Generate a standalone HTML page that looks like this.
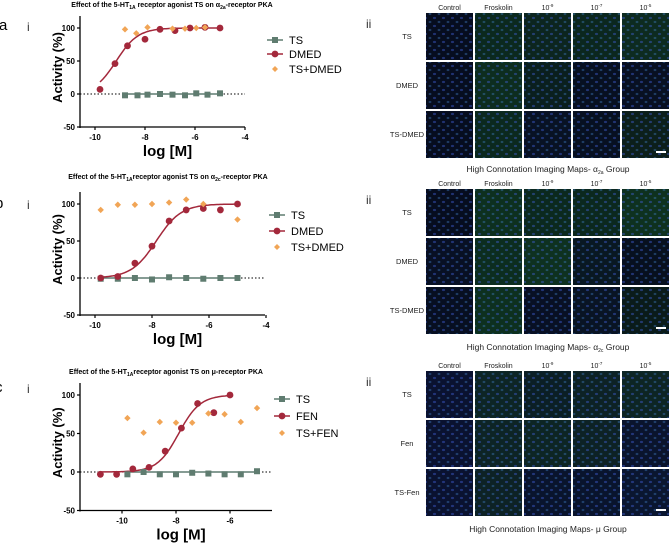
<!DOCTYPE html>
<html><head><meta charset="utf-8">
<style>
html,body{margin:0;padding:0;background:#fff;width:669px;height:545px;overflow:hidden}
svg{display:block;font-family:"Liberation Sans",Arial,sans-serif}
</style></head>
<body>
<svg id="fig" width="669" height="545" viewBox="0 0 669 545" xmlns="http://www.w3.org/2000/svg">
<g id="charts"></g>
<g id="imgs"></g>
</svg>
<script>
// ---- Chart a data ----
const aTsX=[-8.8,-8.3,-7.9,-7.4,-6.9,-6.4,-5.95,-5.5,-5.0];
const aTsY=[-2,-2,-1,0,-1,-2,1,-1,1];
const aDrugX=[-9.8,-9.2,-8.7,-8.0,-7.4,-6.8,-6.2,-5.6,-5.0];
const aDrugY=[7,46,73,83,98,96,100,101,100];
const aComboX=[-8.8,-8.35,-7.9,-6.9,-6.4,-5.95,-5.6];
const aComboY=[98,92,101,99,99,100,101];
const aEC50=-9.15;
// ---- Chart b data ----
const bTsX=[-9.8,-9.2,-8.6,-8.0,-7.4,-6.8,-6.2,-5.6,-5.0];
const bTsY=[-1,-1,0,-2,1,0,-1,0,0];
const bDrugX=[-9.8,-9.2,-8.6,-8.0,-7.4,-6.8,-6.2,-5.6,-5.0];
const bDrugY=[0,2,20,43,77,92,94,92,100];
const bComboX=[-9.8,-9.2,-8.6,-8.0,-7.4,-6.8,-6.2,-5.0];
const bComboY=[92,99,99,100,102,106,100,79];
const bEC50=-7.85;
// ---- Chart c data ----
const cTsX=[-9.8,-9.2,-8.6,-8.0,-7.4,-6.8,-6.2,-5.6,-5.0];
const cTsY=[-3,0,-3,-3,-1,-2,-3,-3,1];
const cDrugX=[-10.8,-10.2,-9.6,-9.0,-8.4,-7.8,-7.2,-6.6,-6.0];
const cDrugY=[-3,-3,4,6,27,57,89,77,100];
const cComboX=[-9.8,-9.2,-8.6,-8.0,-7.4,-6.8,-6.2,-5.6,-5.0];
const cComboY=[70,51,65,64,64,76,75,65,83];
const cEC50=-7.9;
const yTicks=[100,50,0,-50];

const NS="http://www.w3.org/2000/svg";
const RED="#a3283b", GRAY="#5f7c70", ORANGE="#f1a556";
function mk(tag,attrs,parent,text){const e=document.createElementNS(NS,tag);for(const k in attrs)e.setAttribute(k,attrs[k]);if(text!==undefined)e.textContent=text;parent.appendChild(e);return e;}

function chart(cfg){
  const root=document.getElementById('charts');
  const g=mk('g',{},root);
  
  
  const sx=v=>cfg.x0px+(v-cfg.x0v)*cfg.pxu;
  const sy=v=>cfg.y0+(cfg.y100-cfg.y0)*v/100;
  const t=mk('text',{x:cfg.tx,y:cfg.ty,'font-size':7,'font-weight':'bold','text-anchor':'middle'},g);
  
  t.innerHTML=cfg.title;
  const pl=mk('text',{x:cfg.letterX,y:cfg.letterY,'font-size':15},g,cfg.id);
  
  const pi=mk('text',{x:27,y:cfg.letterY+1,'font-size':12,fill:'#333'},g,'i');
  
  const yb=sy(-50);
  const ya=mk('line',{x1:cfg.ax,y1:sy(100)-12,x2:cfg.ax,y2:yb+1,stroke:'#000','stroke-width':1.3},g);
  
  const xa=mk('line',{x1:cfg.ax,y1:yb,x2:cfg.xend,y2:yb,stroke:'#000','stroke-width':1.3},g);
  
  yTicks.forEach(v=>{
    mk('line',{x1:cfg.ax-3,y1:sy(v),x2:cfg.ax,y2:sy(v),stroke:'#000','stroke-width':1.2},g);
    const l=mk('text',{x:cfg.ax-5,y:sy(v)+3,'font-size':8,'font-weight':'bold','text-anchor':'end'},g,String(v));
    
  });
  cfg.xTicks.forEach(v=>{
    mk('line',{x1:sx(v),y1:yb,x2:sx(v),y2:yb+3,stroke:'#000','stroke-width':1.2},g);
    const l=mk('text',{x:sx(v),y:yb+13,'font-size':8,'font-weight':'bold','text-anchor':'middle'},g,String(v));
    
  });
  const xt=mk('text',{x:(cfg.ax+cfg.xend)/2+5,y:yb+29,'font-size':15,'font-weight':'bold','text-anchor':'middle'},g,'log [M]');
  
  const ymid=(sy(100)+yb)/2-10;
  const yt=mk('text',{x:0,y:0,'font-size':13,'font-weight':'bold','text-anchor':'middle',transform:`translate(${cfg.ax-18},${ymid}) rotate(-90)`},g,'Activity (%)');
  
  const zl=mk('line',{x1:cfg.ax,y1:sy(0),x2:cfg.xend,y2:sy(0),stroke:'#000','stroke-width':1,'stroke-dasharray':'1.5,2'},g);
  
  const tl=mk('line',{x1:sx(cfg.tsX[0]),y1:sy(0),x2:sx(cfg.tsX[cfg.tsX.length-1]),y2:sy(0),stroke:GRAY,'stroke-width':1.5},g);
  
  let d='';const xs0=cfg.drugX[0],xs1=cfg.drugX[cfg.drugX.length-1];
  for(let i=0;i<=80;i++){const x=xs0+(xs1-xs0)*i/80;const y=100/(1+Math.pow(10,(cfg.ec50-x)*cfg.hill));d+=(i?'L':'M')+sx(x).toFixed(1)+','+sy(y).toFixed(1);}
  const cv=mk('path',{d:d,fill:'none',stroke:RED,'stroke-width':1.5},g);
  
  cfg.tsX.forEach((x,i)=>{const r=mk('rect',{x:sx(x)-3,y:sy(cfg.tsY[i])-3,width:6,height:6,fill:GRAY},g);
    });
  cfg.drugX.forEach((x,i)=>{const c=mk('circle',{cx:sx(x),cy:sy(cfg.drugY[i]),r:3.4,fill:RED},g);
    });
  cfg.comboX.forEach((x,i)=>{const X=sx(x),Y=sy(cfg.comboY[i]);
    const p=mk('path',{d:`M${X},${Y-3.2}L${X+3.2},${Y}L${X},${Y+3.2}L${X-3.2},${Y}Z`,fill:ORANGE},g);
    });
  const lg=mk('g',{},g);
  const ly=cfg.legY,lx=cfg.legX;
  const e1=mk('g',{},lg);
  mk('line',{x1:lx-8,y1:ly[0],x2:lx+8,y2:ly[0],stroke:GRAY,'stroke-width':1.5},e1);
  mk('rect',{x:lx-3,y:ly[0]-3,width:6,height:6,fill:GRAY},e1);
  mk('text',{x:lx+14,y:ly[0]+4,'font-size':11},e1,'TS');
  const e2=mk('g',{},lg);
  mk('line',{x1:lx-8,y1:ly[1],x2:lx+8,y2:ly[1],stroke:RED,'stroke-width':1.5},e2);
  mk('circle',{cx:lx,cy:ly[1],r:3.4,fill:RED},e2);
  mk('text',{x:lx+14,y:ly[1]+4,'font-size':11},e2,cfg.drugName);
  const e3=mk('g',{},lg);
  mk('path',{d:`M${lx},${ly[2]-3}L${lx+3},${ly[2]}L${lx},${ly[2]+3}L${lx-3},${ly[2]}Z`,fill:ORANGE},e3);
  mk('text',{x:lx+14,y:ly[2]+4,'font-size':11},e3,'TS+'+cfg.drugName);
}

chart({id:'a',title:'Effect of the 5-HT<tspan font-size="5" dy="2">1A</tspan><tspan dy="-2"> receptor agonist TS on  α</tspan><tspan font-size="5" dy="2">2a</tspan><tspan dy="-2">-receptor PKA</tspan>',
  tx:172,ty:7,letterX:-1,letterY:30,x0px:95,x0v:-10,pxu:25,ax:80,xend:245,y0:94,y100:28,xTicks:[-10,-8,-6,-4],
  tsX:aTsX,tsY:aTsY,drugX:aDrugX,drugY:aDrugY,comboX:aComboX,comboY:aComboY,ec50:aEC50,hill:1,drugName:'DMED',legX:275,legY:[40,54,69]});
chart({id:'b',title:'Effect of the 5-HT<tspan font-size="5" dy="2">1A</tspan><tspan dy="-2">receptor agonist TS on α</tspan><tspan font-size="5" dy="2">2c</tspan><tspan dy="-2">-receptor PKA</tspan>',
  tx:168,ty:179,letterX:-5,letterY:208,x0px:95,x0v:-10,pxu:28.5,ax:80,xend:265,y0:278,y100:204,xTicks:[-10,-8,-6,-4],
  tsX:bTsX,tsY:bTsY,drugX:bDrugX,drugY:bDrugY,comboX:bComboX,comboY:bComboY,ec50:bEC50,hill:1,drugName:'DMED',legX:277,legY:[215,231,247]});
chart({id:'c',title:'Effect of the 5-HT<tspan font-size="5" dy="2">1A</tspan><tspan dy="-2">receptor agonist TS on μ-receptor PKA</tspan>',
  tx:166,ty:374,letterX:-5,letterY:392,x0px:122,x0v:-10,pxu:27,ax:80,xend:272,y0:472,y100:395,xTicks:[-10,-8,-6],
  tsX:cTsX,tsY:cTsY,drugX:cDrugX,drugY:cDrugY,comboX:cComboX,comboY:cComboY,ec50:cEC50,hill:1.1,drugName:'FEN',legX:282,legY:[399,416,433]});

const panels=[
 {id:'a',top:13,hdr:8,cap:172,capText:'High Connotation Imaging Maps- α<tspan font-size="5" dy="2">2a</tspan><tspan dy="-2"> Group</tspan>',rows:['TS','DMED','TS-DMED'],
  colors:[['#0a1430','#12402e','#133a30','#123c2e','#144232'],['#0a1430','#144530','#10302e','#0c1a33','#0d1a35'],['#0a1430','#12402e','#0d1c38','#0c1a33','#13302a']]},
 {id:'b',top:189,hdr:184,cap:350,capText:'High Connotation Imaging Maps- α<tspan font-size="5" dy="2">2c</tspan><tspan dy="-2"> Group</tspan>',rows:['TS','DMED','TS-DMED'],
  colors:[['#0a1530','#154a30','#12402e','#123e2e','#164c30'],['#0d1a38','#134530','#164c32','#0e2535','#0c1a30'],['#0c1833','#154a30','#0d1a38','#0e2038','#102a28']]},
 {id:'c',top:371,hdr:366,cap:532,capText:'High Connotation Imaging Maps- μ Group',rows:['TS','Fen','TS-Fen'],
  colors:[['#101c4a','#153a3a','#12303a','#14353a','#143a38'],['#101c4a','#14383a','#153a38','#14353a','#101f45'],['#101c4a','#14353a','#0f1f45','#0f1f45','#10224a']]}
];
const headers=['Control','Froskolin','10<tspan font-size="4.5" dy="-3">-9</tspan>','10<tspan font-size="4.5" dy="-3">-7</tspan>','10<tspan font-size="4.5" dy="-3">-5</tspan>'];
const im=document.getElementById('imgs');
const defs=mk('defs',{},im);
const pat=mk('pattern',{id:'cells',width:9,height:8,patternUnits:'userSpaceOnUse'},defs);
mk('ellipse',{cx:2.5,cy:2,rx:1.6,ry:1.1,fill:'#4060d8','fill-opacity':0.45},pat);
mk('ellipse',{cx:7,cy:6,rx:1.4,ry:1.1,fill:'#4080c8','fill-opacity':0.4},pat);
panels.forEach(p=>{
  const g=mk('g',{},im);
  
  
  const ii=mk('text',{x:366,y:p.top+15,'font-size':12,fill:'#333'},g,'ii');
  
  headers.forEach((h,c)=>{const t=mk('text',{x:426+23.5+49*c,y:p.hdr+2,'font-size':7,'text-anchor':'middle',fill:'#222'},g);
    t.innerHTML=h;});
  p.rows.forEach((r,ri)=>{
    const y=p.top+49*ri;
    const t=mk('text',{x:407,y:y+26,'font-size':7.5,'text-anchor':'middle',fill:'#222'},g,r);
    
    p.colors[ri].forEach((col,c)=>{
      const x=426+49*c;
      const rc=mk('rect',{x:x,y:y,width:47,height:47,fill:col},g);
      
      mk('rect',{x:x,y:y,width:47,height:47,fill:'#000','fill-opacity':0.35},g);
      mk('rect',{x:x,y:y,width:47,height:47,fill:'url(#cells)'},g);
    });
  });
  const sb=mk('rect',{x:656,y:p.top+49*2+40,width:10,height:2,fill:'#fff'},g);
  
  const cap=mk('text',{x:548,y:p.cap,'font-size':8.5,'text-anchor':'middle',fill:'#222'},g);
  cap.innerHTML=p.capText;
});
</script>
</body></html>
